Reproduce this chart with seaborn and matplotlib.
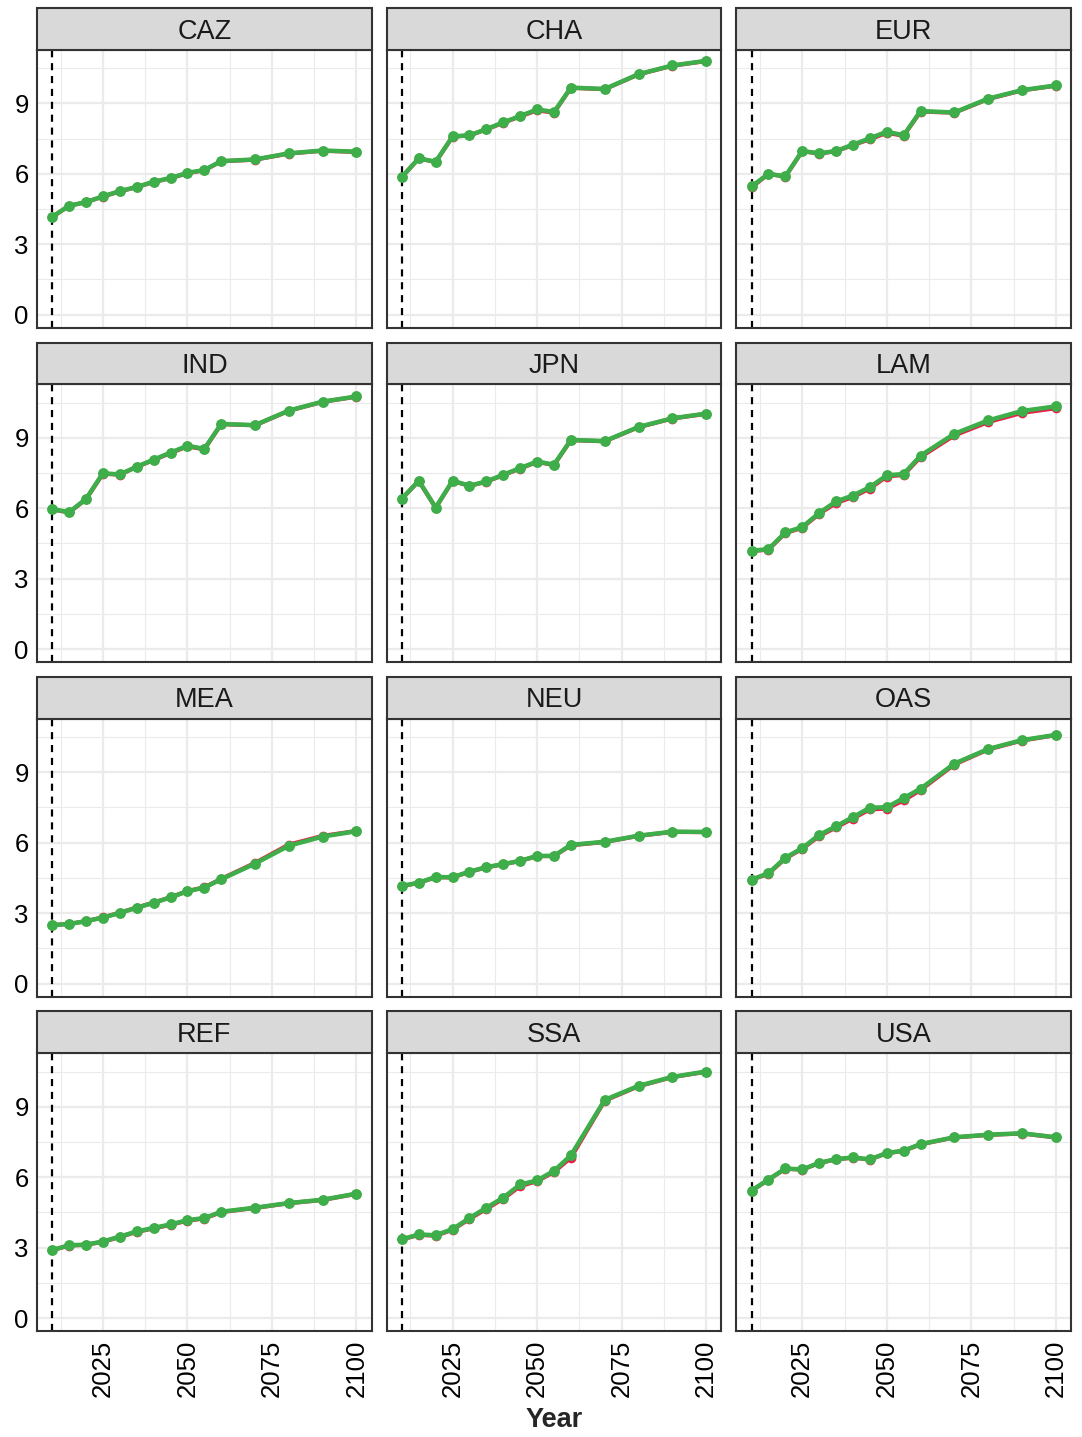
import numpy as np
import pandas as pd
import matplotlib
matplotlib.use("Agg")
import matplotlib.pyplot as plt
from matplotlib.patches import Rectangle
import seaborn as sns

years = [2010, 2015, 2020, 2025, 2030, 2035, 2040, 2045, 2050, 2055, 2060, 2070, 2080, 2090, 2100]
regions = ["CAZ", "CHA", "EUR", "IND", "JPN", "LAM", "MEA", "NEU", "OAS", "REF", "SSA", "USA"]

# green series (drawn on top)
CAZ_green = [4.16, 4.64, 4.79, 5.04, 5.26, 5.44, 5.66, 5.82, 6.04, 6.16, 6.54, 6.61, 6.87, 6.99, 6.94]
CHA_green = [5.86, 6.66, 6.51, 7.59, 7.64, 7.90, 8.19, 8.46, 8.74, 8.63, 9.67, 9.61, 10.24, 10.61, 10.81]
EUR_green = [5.46, 6.00, 5.89, 6.97, 6.87, 6.97, 7.24, 7.51, 7.79, 7.64, 8.67, 8.61, 9.20, 9.56, 9.76]
IND_green = [5.97, 5.83, 6.40, 7.49, 7.44, 7.77, 8.07, 8.37, 8.66, 8.53, 9.59, 9.54, 10.16, 10.54, 10.76]
JPN_green = [6.41, 7.17, 6.03, 7.17, 6.96, 7.14, 7.43, 7.71, 7.99, 7.86, 8.91, 8.86, 9.46, 9.83, 10.03]
LAM_green = [4.19, 4.26, 4.97, 5.20, 5.80, 6.29, 6.54, 6.90, 7.40, 7.46, 8.24, 9.17, 9.74, 10.14, 10.34]
MEA_green = [2.49, 2.54, 2.66, 2.81, 3.01, 3.23, 3.44, 3.67, 3.93, 4.09, 4.44, 5.11, 5.87, 6.26, 6.49]
NEU_green = [4.16, 4.30, 4.54, 4.53, 4.77, 4.96, 5.09, 5.23, 5.44, 5.44, 5.91, 6.04, 6.30, 6.47, 6.46]
OAS_green = [4.43, 4.70, 5.36, 5.77, 6.33, 6.70, 7.09, 7.49, 7.51, 7.90, 8.30, 9.37, 9.99, 10.37, 10.59]
REF_green = [2.90, 3.10, 3.13, 3.26, 3.47, 3.69, 3.84, 3.99, 4.17, 4.26, 4.53, 4.70, 4.90, 5.04, 5.30]
SSA_green = [3.36, 3.56, 3.53, 3.79, 4.26, 4.70, 5.13, 5.69, 5.86, 6.27, 6.93, 9.29, 9.89, 10.27, 10.50]
USA_green = [5.43, 5.90, 6.37, 6.33, 6.61, 6.77, 6.84, 6.76, 7.03, 7.13, 7.41, 7.70, 7.81, 7.87, 7.70]

# red series (underneath)
CAZ_red = [4.16, 4.64, 4.79, 5.03, 5.25, 5.43, 5.65, 5.81, 6.02, 6.15, 6.53, 6.60, 6.86, 6.98, 6.93]
CHA_red = [5.86, 6.65, 6.50, 7.58, 7.63, 7.89, 8.17, 8.44, 8.70, 8.60, 9.66, 9.60, 10.23, 10.60, 10.80]
EUR_red = [5.42, 5.99, 5.88, 6.96, 6.86, 6.96, 7.22, 7.47, 7.74, 7.62, 8.65, 8.60, 9.18, 9.55, 9.75]
IND_red = [5.95, 5.82, 6.38, 7.47, 7.43, 7.76, 8.05, 8.35, 8.63, 8.51, 9.58, 9.53, 10.15, 10.53, 10.75]
JPN_red = [6.40, 7.16, 6.02, 7.16, 6.95, 7.13, 7.41, 7.69, 7.97, 7.84, 8.90, 8.85, 9.45, 9.82, 10.02]
LAM_red = [4.17, 4.24, 4.94, 5.17, 5.76, 6.22, 6.48, 6.84, 7.35, 7.42, 8.18, 9.10, 9.67, 10.06, 10.26]
MEA_red = [2.49, 2.54, 2.66, 2.82, 3.02, 3.24, 3.45, 3.68, 3.94, 4.10, 4.46, 5.14, 5.92, 6.29, 6.50]
NEU_red = [4.15, 4.29, 4.53, 4.52, 4.76, 4.95, 5.08, 5.22, 5.43, 5.43, 5.89, 6.03, 6.29, 6.46, 6.45]
OAS_red = [4.42, 4.68, 5.33, 5.74, 6.28, 6.65, 7.03, 7.42, 7.45, 7.80, 8.24, 9.33, 9.97, 10.35, 10.58]
REF_red = [2.89, 3.09, 3.12, 3.25, 3.45, 3.67, 3.82, 3.97, 4.15, 4.24, 4.51, 4.69, 4.89, 5.03, 5.29]
SSA_red = [3.35, 3.54, 3.51, 3.76, 4.22, 4.65, 5.08, 5.62, 5.83, 6.22, 6.83, 9.26, 9.87, 10.26, 10.49]
USA_red = [5.42, 5.89, 6.36, 6.32, 6.60, 6.76, 6.83, 6.75, 7.02, 7.12, 7.40, 7.69, 7.80, 7.86, 7.69]

green_vals = [CAZ_green, CHA_green, EUR_green, IND_green, JPN_green, LAM_green,
              MEA_green, NEU_green, OAS_green, REF_green, SSA_green, USA_green]
red_vals = [CAZ_red, CHA_red, EUR_red, IND_red, JPN_red, LAM_red,
            MEA_red, NEU_red, OAS_red, REF_red, SSA_red, USA_red]

start_year = 2010
x_ticks = [2025, 2050, 2075, 2100]
y_ticks = [0, 3, 6, 9]

RED = "#E8204A"
GREEN = "#3DAE49"
BORDER = "#333333"
GRID = "#EBEBEB"

rows = []
for reg, g, r in zip(regions, green_vals, red_vals):
    for yr, gv, rv in zip(years, g, r):
        rows.append({"Region": reg, "Year": yr, "Value": rv, "Series": "red"})
        rows.append({"Region": reg, "Year": yr, "Value": gv, "Series": "green"})
df = pd.DataFrame(rows)

sns.set_theme(style="whitegrid")
plt.rcParams["font.family"] = ["Liberation Sans", "DejaVu Sans"]
plt.rcParams["xtick.labelsize"] = 18.5
plt.rcParams["ytick.labelsize"] = 18.5

fig, axes = plt.subplots(4, 3, figsize=(10.82, 14.37), dpi=100, sharex=True, sharey=True)
fig.subplots_adjust(left=37 / 1082, right=1071 / 1082, top=1 - 50 / 1437,
                    bottom=1 - 1331 / 1437, wspace=0.0448, hspace=0.205)

strip_h = 42 / 278

for i, (ax, reg) in enumerate(zip(axes.flat, regions)):
    sub = df[df["Region"] == reg]
    ax.axvline(start_year, color="black", lw=1.6, ls=(0, (3.2, 2.6)), zorder=2)
    sns.lineplot(data=sub[sub["Series"] == "red"], x="Year", y="Value", ax=ax,
                 color=RED, lw=3.0, marker="o", markersize=7, markeredgewidth=0,
                 zorder=3, legend=False)
    sns.lineplot(data=sub[sub["Series"] == "green"], x="Year", y="Value", ax=ax,
                 color=GREEN, lw=3.2, marker="o", markersize=7.8, markeredgewidth=0,
                 zorder=4, legend=False)

    ax.set_xlim(2005.5, 2104.5)
    ax.set_ylim(-0.55, 11.27)
    ax.set_xticks(x_ticks)
    ax.set_yticks(y_ticks)
    ax.set_xticks([2012.5, 2037.5, 2062.5, 2087.5], minor=True)
    ax.set_yticks([1.5, 4.5, 7.5, 10.5], minor=True)
    ax.grid(which="major", color=GRID, lw=1.6)
    ax.grid(which="minor", color=GRID, lw=0.8)
    ax.set_facecolor("white")
    ax.set_xlabel("")
    ax.set_ylabel("")
    for s in ax.spines.values():
        s.set_color(BORDER)
        s.set_linewidth(1.5)
        s.set_visible(True)

    row, col = divmod(i, 3)
    ax.tick_params(axis="both", which="major", color=BORDER,
                   length=4, width=1.1, pad=2, labelcolor="black")
    ax.tick_params(which="minor", length=0)
    if col != 0:
        ax.tick_params(axis="y", left=False)
    if row != 3:
        ax.tick_params(axis="x", bottom=False)
    else:
        for lab in ax.get_xticklabels():
            lab.set_rotation(90)
            lab.set_fontsize(18.5)
    if col == 0:
        for lab in ax.get_yticklabels():
            lab.set_fontsize(18.5)

    ax.add_patch(Rectangle((0, 1), 1, strip_h, transform=ax.transAxes,
                           facecolor="#D9D9D9", edgecolor=BORDER, lw=1.5,
                           clip_on=False, zorder=5))
    ax.text(0.5, 1 + strip_h / 2 - 2.5 / 278, reg, transform=ax.transAxes, ha="center",
            va="center", fontsize=19.5, color="#1A1A1A", zorder=6)

fig.text(554 / 1082, 1 - 1420 / 1437, "Year", ha="center", va="center",
         fontsize=19.5, fontweight="bold")

fig.savefig("out.png", dpi=100)
